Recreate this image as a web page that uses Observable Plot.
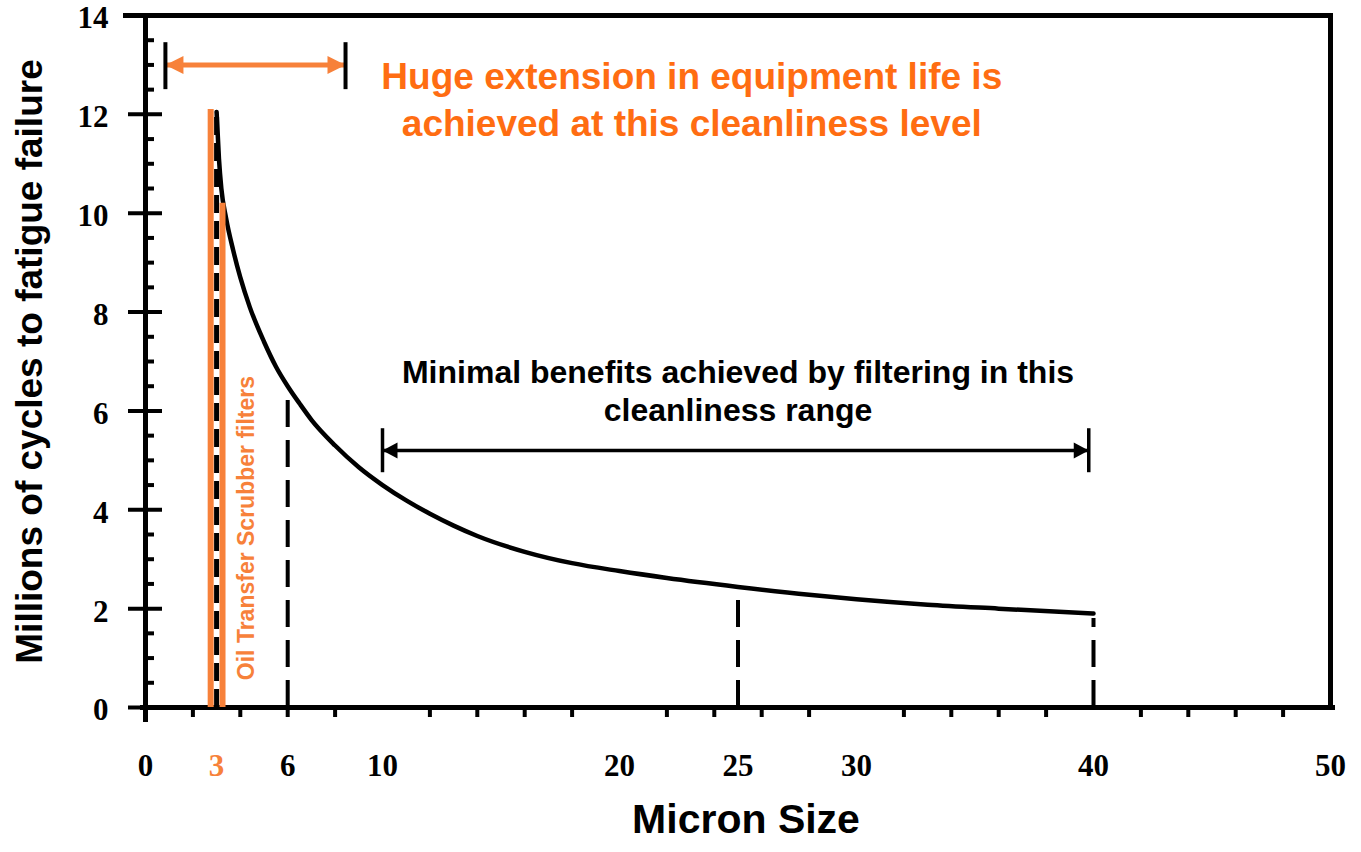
<!DOCTYPE html>
<html>
<head>
<meta charset="utf-8">
<script src="https://cdn.jsdelivr.net/npm/d3@7"></script>
<script src="https://cdn.jsdelivr.net/npm/@observablehq/plot@0.6"></script>
<style>
  html, body { margin: 0; padding: 0; background: #fff; }
  svg { display: block; }
</style>
</head>
<body>
<div id="chart"></div>
<script>
// ---- data ----
const microns = [3.0, 3.1, 3.2, 3.4, 3.7, 4.0, 4.4, 5.0, 5.5, 6.0, 6.5, 7.0, 8.0, 9.0, 10, 11, 12, 13, 14, 16, 18, 20, 22, 25, 28, 30, 33, 36, 40];
const cycles  = [12.05, 11.1, 10.5, 9.9, 9.25, 8.7, 8.1, 7.4, 6.9, 6.5, 6.15, 5.82, 5.3, 4.86, 4.5, 4.19, 3.92, 3.68, 3.47, 3.15, 2.92, 2.76, 2.62, 2.44, 2.28, 2.19, 2.08, 2.0, 1.9];

const dashX   = [3, 6, 25, 40];
const dashTop = [12, 6.3, 2.2, 1.8];

const filterX   = [2.75, 3.25];
const filterTop = [12.1, 10.2];

const xTickLabels = [0, 3, 6, 10, 20, 25, 30, 40, 50];
const yTickLabels = [0, 2, 4, 6, 8, 10, 12, 14];
const xMajorTicks = [10, 20, 30, 40, 50];
const xMinorTicks = [2, 4, 6, 8, 12, 14, 16, 18, 22, 24, 26, 28, 32, 34, 36, 38, 42, 44, 46, 48];
const yMajorTicks = [0, 2, 4, 6, 8, 10, 12, 14];
const yMinorTicks = [0.5, 1, 1.5, 2.5, 3, 3.5, 4.5, 5, 5.5, 6.5, 7, 7.5, 8.5, 9, 9.5, 10.5, 11, 11.5, 12.5, 13, 13.5];

// range arrows: [start, end], y level, bar extent
const hugeRange = [0.84, 8.44];
const hugeY = 13.0;
const hugeBar = [12.5, 13.45];
const minimalRange = [10, 39.8];
const minimalY = 5.2;
const minimalBar = [4.75, 5.64];

const hugeText = ["Huge extension in equipment life is", "achieved at this cleanliness level"];
const hugeAt = [23.05, 12.35];
const minimalText = ["Minimal benefits achieved by filtering in this", "cleanliness range"];
const minimalAt = [25, 6.43];
const filterLabel = "Oil Transfer Scrubber filters";
const filterLabelAt = [4.26, 3.63];
const xTitle = "Micron Size";
const yTitle = "Millions of cycles to fatigue failure";

// ---- styles ----
const ORANGE = "#f7813a";
const ORANGE_TEXT = "#ff6d12";
const SANS = "'Liberation Sans', Arial, Helvetica, sans-serif";
const SERIF = "'Liberation Serif', 'Times New Roman', serif";

const curve = microns.map((x, i) => ({x, y: cycles[i]}));
const dashes = dashX.map((x, i) => ({x, top: dashTop[i]}));
const filters = filterX.map((x, i) => ({x, top: filterTop[i]}));

const head = (len, half, dir) => ({
  draw(ctx) {
    ctx.moveTo(0, 0);
    ctx.lineTo(dir * len, -half);
    ctx.lineTo(dir * len, half);
    ctx.closePath();
  }
});

const chart = Plot.plot({
  width: 1361,
  height: 852,
  marginLeft: 145,
  marginRight: 31,
  marginTop: 15,
  marginBottom: 145,
  x: {domain: [0, 50], axis: null},
  y: {domain: [0, 14], axis: null},
  style: {background: "#fff", overflow: "visible"},
  marks: [
    // frame
    Plot.ruleY([14], {x1: 0, x2: 50, insetLeft: -22, insetRight: -3, stroke: "#000", strokeWidth: 5}),
    Plot.ruleX([50], {y1: 0, y2: 14, insetTop: 0, insetBottom: -2, stroke: "#000", strokeWidth: 5}),
    Plot.ruleX([0], {y1: 0, y2: 14, insetTop: 15, insetBottom: -2, stroke: "#000", strokeWidth: 5}),
    Plot.ruleY([0], {x1: 0, x2: 50, insetLeft: -5, insetRight: -5, stroke: "#000", strokeWidth: 5}),
    // ticks
    Plot.ruleY(yMajorTicks, {x1: 0, x2: 0, insetLeft: -17, insetRight: -17, stroke: "#000", strokeWidth: 4}),
    Plot.ruleY(yMinorTicks, {x1: 0, x2: 0, insetLeft: 0, insetRight: -9, stroke: "#000", strokeWidth: 4}),
    Plot.ruleX(xMajorTicks, {y1: 0, y2: 0, insetTop: 20, insetBottom: -20, stroke: "#000", strokeWidth: 4}),
    Plot.ruleX(xMinorTicks, {y1: 0, y2: 0, insetTop: 0, insetBottom: -10, stroke: "#000", strokeWidth: 4}),
    // tick labels
    Plot.text(yTickLabels, {x: 0, y: d => d, text: d => String(d), dx: -37, dy: 3, textAnchor: "end",
      fontFamily: SERIF, fontWeight: "bold", fontSize: 31, fill: "#000"}),
    Plot.text(xTickLabels.filter(d => d !== 3), {x: d => d, y: 0, text: d => String(d), dy: 59,
      fontFamily: SERIF, fontWeight: "bold", fontSize: 31, fill: "#000"}),
    Plot.text(xTickLabels.filter(d => d === 3), {x: d => d, y: 0, text: d => String(d), dy: 59,
      fontFamily: SERIF, fontWeight: "bold", fontSize: 31, fill: ORANGE}),
    // dashed drop lines
    Plot.ruleX(dashes.slice(0, 1), {x: "x", y1: 0, y2: "top", stroke: "#000", strokeWidth: 5, strokeDasharray: "18,8"}),
    Plot.ruleX(dashes.slice(1), {x: "x", y1: 0, y2: "top", stroke: "#000", strokeWidth: 4, strokeDasharray: "27,13"}),
    // curve
    Plot.line(curve, {x: "x", y: "y", curve: "monotone-x", stroke: "#000", strokeWidth: 4.5}),
    // orange filter lines
    Plot.ruleX(filters, {x: "x", y1: 0, y2: "top", stroke: ORANGE, strokeWidth: 6}),
    Plot.text([filterLabel], {x: filterLabelAt[0], y: filterLabelAt[1], text: d => d, rotate: -90,
      fontFamily: SANS, fontWeight: "bold", fontSize: 23, fill: ORANGE}),
    // orange range arrow
    Plot.ruleY([hugeY], {x1: hugeRange[0], x2: hugeRange[1], stroke: ORANGE, strokeWidth: 5}),
    Plot.dot([hugeRange[0]], {x: d => d, y: hugeY, symbol: head(18, 9, 1), fill: ORANGE, stroke: null}),
    Plot.dot([hugeRange[1]], {x: d => d, y: hugeY, symbol: head(18, 9, -1), fill: ORANGE, stroke: null}),
    Plot.ruleX(hugeRange, {y1: hugeBar[0], y2: hugeBar[1], stroke: "#000", strokeWidth: 4}),
    // black range arrow
    Plot.ruleY([minimalY], {x1: minimalRange[0], x2: minimalRange[1], stroke: "#000", strokeWidth: 3.5}),
    Plot.dot([minimalRange[0]], {x: d => d, y: minimalY, symbol: head(15, 8, 1), fill: "#000", stroke: null}),
    Plot.dot([minimalRange[1]], {x: d => d, y: minimalY, symbol: head(15, 8, -1), fill: "#000", stroke: null}),
    Plot.ruleX(minimalRange, {y1: minimalBar[0], y2: minimalBar[1], stroke: "#000", strokeWidth: 3.5}),
    // annotations
    Plot.text([hugeText.join("\n")], {x: hugeAt[0], y: hugeAt[1], text: d => d, lineHeight: 1.27,
      fontFamily: SANS, fontWeight: "bold", fontSize: 37, fill: ORANGE_TEXT}),
    Plot.text([minimalText.join("\n")], {x: minimalAt[0], y: minimalAt[1], text: d => d, lineHeight: 1.19,
      fontFamily: SANS, fontWeight: "bold", fontSize: 32, fill: "#000"}),
    // axis titles
    Plot.text([xTitle], {frameAnchor: "bottom", textAnchor: "middle", text: d => d, dx: 8, dy: 125,
      fontFamily: SANS, fontWeight: "bold", fontSize: 41, fill: "#000"}),
    Plot.text([yTitle], {frameAnchor: "left", textAnchor: "middle", text: d => d, rotate: -90, dx: -115, dy: 0,
      fontFamily: SANS, fontWeight: "bold", fontSize: 37, fill: "#000"})
  ]
});
document.getElementById("chart").appendChild(chart);
</script>
</body>
</html>
